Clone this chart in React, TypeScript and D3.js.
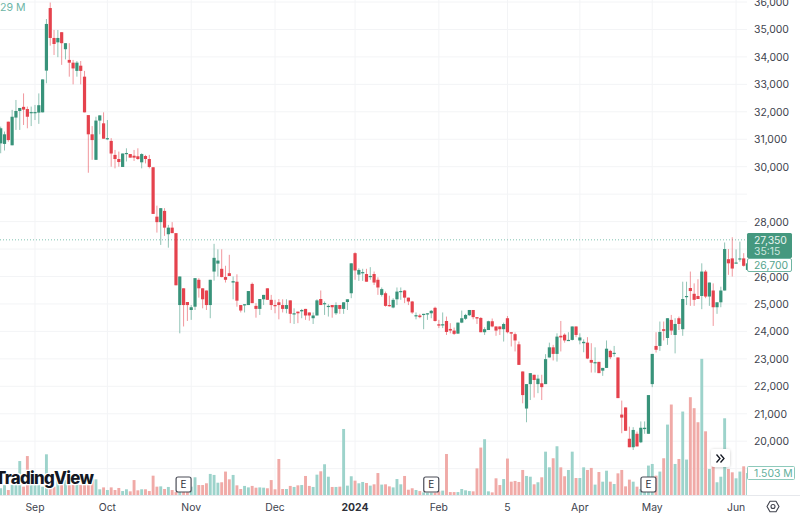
import React from 'react';
import * as d3 from 'd3';

const WIDTH = 800;
const HEIGHT = 514;
const PANE_RIGHT = 747;

// open, high, low, close
const ohlc: [number, number, number, number][] = [
  [30850,31460,30490,31400],[30830,31280,30590,31180],[31640,31640,30910,30970],[30780,32070,30780,31820],
  [31790,32430,31340,32030],[32030,32140,31340,32140],[32180,32670,31520,32080],[32100,32190,31400,31820],
  [31970,32190,31480,31990],[31970,32250,31700,31990],[31970,32670,31560,32240],[31980,33180,31980,33180],
  [33500,35380,33040,35200],[35780,35980,34410,34690],[34690,34980,34070,34470],[34530,34980,33990,34690],
  [34900,34900,33710,34500],[34280,34500,33910,34500],[33890,34500,33280,33790],[33790,33890,33000,33580],
  [33490,33850,33280,33790],[33680,33850,33000,33490],[33280,33490,31980,31980],[31880,31880,29780,31180],
  [31180,31480,30250,30970],[30250,31820,30250,31680],[31680,31870,31180,31870],[31580,31980,31020,31020],
  [31010,31700,30970,31040],[30940,31040,30000,30480],[30430,30610,29940,30280],[30280,30550,30000,30170],
  [29990,30480,29990,30480],[30460,30670,30190,30500],[30460,30460,30330,30330],[30400,30610,30210,30330],
  [30380,30670,30250,30280],[30160,30490,29940,30460],[30390,30430,30120,30280],[30280,30430,29940,29990],
  [29980,29980,28280,28280],[28180,28580,27600,27980],[27980,28490,27150,28490],[28390,28490,27480,27780],
  [27540,27880,27050,27780],[27780,27980,27580,27580],[27580,27580,25680,25680],[24960,26000,23930,26000],
  [25570,25570,24180,24960],[25070,25070,24380,24960],[24780,24960,24420,24880],[24900,25940,24780,25940],
  [25880,25940,25230,25570],[25570,25570,24840,25170],[25490,25490,24780,24960],[24960,25880,24480,25880],
  [26180,27190,25850,26680],[26470,26990,26000,26580],[26280,26990,25970,25980],[25980,26390,25780,25880],
  [26120,26790,26020,26020],[25780,26000,25170,25830],[25810,26080,24900,25120],[24960,24960,24690,24760],
  [24960,24990,24690,24990],[24960,25470,24960,25470],[25730,25780,25030,25030],[24930,25030,24500,24820],
  [24820,25180,24600,25180],[25170,25330,24960,25330],[25570,25570,25150,25150],[25150,25330,24780,24960],
  [24960,25150,24660,24930],[25060,25180,24440,24960],[24960,25170,24690,24820],[24820,25170,24660,24960],
  [25130,25130,24300,24640],[24620,24840,24270,24660],[24720,24720,24300,24660],[24730,24820,24480,24780],
  [24820,24820,24420,24580],[24690,24690,24390,24580],[24480,24690,24270,24580],[24580,25170,24580,25130],
  [25180,25490,24960,24960],[25000,25090,24600,25030],[24890,24990,24540,24930],[24960,24960,24500,24880],
  [24660,25060,24600,24960],[24960,24960,24640,24820],[24820,25060,24640,25060],[25070,25170,24780,25170],
  [25390,26480,25210,26480],[26850,26880,25880,26220],[26070,26300,25840,26240],[26140,26280,25840,26160],
  [26090,26280,25810,25810],[26000,26340,25880,26020],[26090,26180,25690,25780],[25880,25970,25330,25600],
  [25330,25600,25270,25540],[25390,25450,24900,24930],[24960,25300,24900,24920],[24870,25210,24840,25150],
  [25170,25600,24960,25450],[25450,25600,25150,25470],[25490,25510,25030,25230],[25230,25230,24960,25090],
  [25090,25110,24640,24690],[24560,24690,24440,24590],[24580,24640,24480,24520],[24610,24640,24080,24640],
  [24620,24660,24420,24660],[24660,24780,24480,24750],[24860,24900,24360,24380],[24260,24420,24120,24210],
  [24240,24690,24120,24260],[24380,24540,23870,23980],[24090,24300,23930,24030],[24030,24140,23870,23910],
  [23920,24320,23910,24320],[24320,24760,24300,24480],[24460,24640,24420,24600],[24590,24780,24560,24780],
  [24780,24780,24440,24520],[24520,24520,24270,24470],[24490,24520,23970,23970],[23970,24150,23870,24080],
  [24050,24390,24050,24370],[24370,24470,24150,24180],[24180,24180,23840,24030],[24180,24180,23870,24080],
  [24080,24320,23630,24270],[24480,24560,23930,23970],[23970,23970,23450,23920],[23900,23960,23270,23670],
  [23530,23630,22780,22780],[22540,22540,21380,21680],[21190,22080,20690,22080],[22080,22480,21500,22480],
  [22420,22420,21590,22230],[22080,22420,21750,22280],[22110,22420,21500,21970],[22080,23170,22080,22990],
  [23050,23590,23050,23420],[23420,23510,22940,23180],[23180,23930,22900,23810],[23840,24380,23270,23780],
  [23880,23930,23590,23670],[23670,23970,23670,23690],[23690,24180,23670,24180],[24180,24180,23790,23870],
  [23670,23930,23530,23780],[23570,23710,23240,23620],[23590,23790,22990,23010],[22960,23570,22500,22860],
  [22840,23420,22500,22880],[22890,22890,22480,22480],[22570,22670,22380,22670],[22670,23670,22670,23370],
  [23290,23330,22990,23060],[23180,23470,23080,23220],[23050,23050,21570,21570],[20970,21480,20290,20860],
  [21230,21230,20380,20380],[20090,20530,19780,19780],[19780,20510,19680,20410],[20270,20350,19810,19810],
  [19960,20720,19930,20490],[20440,20720,20270,20490],[20270,21680,20270,21680],[22080,23180,21970,23180],
  [23470,23970,23230,23330],[23470,24360,23290,23980],[24080,24360,23670,24020],[23760,24480,23510,24480],
  [24420,24600,23870,24030],[23870,24480,23200,24270],[24480,24540,24050,24270],[24080,25810,23840,25180],
  [25270,25810,24960,25290],[25580,26180,24930,25470],[25370,25750,24930,25150],[25290,25900,25180,25180],
  [25290,26480,24810,26180],[26180,26240,25210,25270],[25270,25780,24930,25780],[25490,25750,24200,24880],
  [24880,25060,24640,25060],[25060,25630,24880,25490],[25490,27240,25490,27000],[26630,27000,26060,26480],
  [26660,27430,26000,26290],[26480,26990,26480,26510],[26620,27270,26540,26660],[26660,26850,26360,26390],
  [26240,26480,26240,26480],
];

// volume in millions
const volumes = [
  0.46,0.68,0.34,0.68,0.68,2.32,0.57,2.66,0.68,0.68,0.68,0.57,2.78,0.46,0.57,1.48,1.02,1.02,0.68,0.68,
  0.80,0.68,0.68,0.68,1.25,1.07,0.39,0.52,0.34,0.52,0.34,0.48,0.27,0.39,0.25,1.02,0.32,0.39,0.39,0.27,
  1.32,0.57,0.59,0.41,0.55,0.34,0.20,0.23,0.23,0.23,0.57,1.21,0.68,0.68,0.80,1.44,1.37,0.84,0.87,1.60,
  1.07,1.37,0.66,0.41,0.62,0.52,0.62,0.50,0.52,0.50,0.46,1.02,0.39,2.46,0.41,0.41,0.62,0.55,0.66,0.68,
  1.30,0.62,0.55,1.39,1.62,2.10,1.25,0.55,0.55,0.57,4.51,0.64,1.28,0.98,0.80,0.89,0.82,0.64,0.73,1.50,
  0.71,0.73,0.59,0.52,1.09,0.73,1.30,0.36,0.46,0.34,0.27,0.18,0.16,0.16,0.16,0.25,0.30,2.80,0.20,0.20,
  0.20,0.41,0.32,0.27,0.25,1.82,3.24,3.81,0.25,0.18,1.14,0.68,1.09,2.49,0.91,0.96,0.89,1.71,1.30,1.25,
  0.73,0.87,1.21,2.96,1.89,2.51,3.33,1.89,1.28,1.71,2.96,1.16,1.16,1.89,1.71,1.85,0.71,1.57,0.91,1.66,
  0.91,0.75,1.48,1.71,0.59,1.05,0.91,0.57,0.41,0.41,2.01,2.12,1.32,1.60,2.51,4.81,6.18,2.12,2.46,5.70,
  2.42,6.68,5.93,4.97,9.30,4.35,1.78,2.01,0.87,1.25,5.24,1.78,1.55,1.14,1.60,1.96,1.503,
];

const priceLabels = [36000,35000,34000,33000,32000,31000,30000,28000,26000,25000,24000,23000,22000,21000,20000];
const priceGrid = [36000,35000,34000,33000,32000,31000,30000,29000,28000,27000,26000,25000,24000,23000,22000,21000,20000,19000];
const timeTicks = [
  { bar: 9, label: 'Sep' },
  { bar: 28, label: 'Oct' },
  { bar: 50, label: 'Nov' },
  { bar: 72, label: 'Dec' },
  { bar: 93, label: '2024', bold: true },
  { bar: 115, label: 'Feb' },
  { bar: 133, label: '5' },
  { bar: 152, label: 'Apr' },
  { bar: 171, label: 'May' },
  { bar: 193, label: 'Jun' },
];
const earningsBars = [48, 113, 170];
const lastPrice = 27350;

const GREEN = '#38937a';
const RED = '#e5424d';
const GREEN_VOL = '#9dd3cb';
const RED_VOL = '#f0aaa7';
const FONT = 'Inter, sans-serif';
const AXIS_SIZE = 10.4;

const x = d3.scaleLinear().domain([0, 196]).range([0.7, 747.5]);
const y = d3.scaleLinear().domain([36000, 20000]).range([2, 441.2]);
const yVol = d3.scaleLinear().domain([0, 10]).range([495, 348.6]);

const gearPoints = d3.range(6).map((i) => {
  const a = (i * Math.PI) / 3;
  return [773 + 6 * Math.cos(a), 506.5 + 6 * Math.sin(a)] as [number, number];
});
const gearPath = d3.line().curve(d3.curveLinearClosed)(gearPoints) as string;

export default function App() {
  return (
    <svg
      width={WIDTH}
      height={HEIGHT}
      style={{ position: 'fixed', left: 0, top: 0, background: '#fff', display: 'block' }}
    >
      <defs>
        <clipPath id="pane">
          <rect x={0} y={0} width={PANE_RIGHT} height={495} />
        </clipPath>
        <filter id="btnShadow" x="-40%" y="-40%" width="180%" height="180%">
          <feDropShadow dx="0" dy="0.5" stdDeviation="1.5" floodOpacity="0.22" />
        </filter>
      </defs>

      {/* grid */}
      <g stroke="#f3f4f6" strokeWidth={1}>
        {priceGrid.map((p) => (
          <line key={p} x1={0} x2={PANE_RIGHT} y1={y(p)} y2={y(p)} />
        ))}
        {timeTicks.map((t) => (
          <line key={t.label} x1={x(t.bar)} x2={x(t.bar)} y1={0} y2={495} />
        ))}
      </g>
      <line x1={0} x2={WIDTH} y1={495.5} y2={495.5} stroke="#e6e8ec" />

      <g clipPath="url(#pane)">
        {/* volume */}
        {volumes.map((v, i) => (
          <rect
            key={i}
            x={x(i) - 1.45}
            width={2.9}
            y={yVol(v)}
            height={yVol(0) - yVol(v)}
            fill={ohlc[i][3] >= ohlc[i][0] ? GREEN_VOL : RED_VOL}
          />
        ))}

        <line
          x1={0}
          x2={PANE_RIGHT}
          y1={y(lastPrice) + 0.4}
          y2={y(lastPrice) + 0.4}
          stroke="#7fc2b1"
          strokeDasharray="1 2"
        />

        {/* candles */}
        {ohlc.map(([o, h, l, c], i) => {
          const col = c >= o ? GREEN : RED;
          const top = y(Math.max(o, c));
          const bot = y(Math.min(o, c));
          return (
            <g key={i}>
              <line x1={x(i)} x2={x(i)} y1={y(h)} y2={y(l)} stroke={col} strokeWidth={1} strokeOpacity={0.55} />
              <rect x={x(i) - 1.6} width={3.2} y={top} height={Math.max(bot - top, 1.2)} fill={col} />
            </g>
          );
        })}
      </g>

      <text x={0} y={10.5} fontFamily={FONT} fontSize={10.6} fill="#6db5a6">
        29 M
      </text>

      {/* logo */}
      <text
        x={-5}
        y={484}
        fontFamily={FONT}
        fontSize={16.8}
        fontWeight={800}
        letterSpacing={-0.7}
        fill="#131722"
        stroke="#fff"
        strokeWidth={2.5}
        paintOrder="stroke"
      >
        TradingView
      </text>

      {/* earnings markers */}
      {earningsBars.map((b) => (
        <g key={b}>
          <rect
            x={x(b) - 7.5}
            y={477}
            width={15}
            height={15}
            rx={2}
            fill="#fff"
            stroke="#4a4d57"
            strokeWidth={1.2}
          />
          <text x={x(b)} y={488.2} textAnchor="middle" fontFamily={FONT} fontSize={10} fill="#2e3039">
            E
          </text>
        </g>
      ))}

      {/* scroll button */}
      <rect x={711} y={449} width={19} height={18} rx={3} fill="#fff" filter="url(#btnShadow)" />
      <path
        d="M716.5 454.5L720 458.5L716.5 462.5M720.5 454.5L724 458.5L720.5 462.5"
        fill="none"
        stroke="#131722"
        strokeWidth={1.3}
      />

      {/* price axis */}
      <rect x={PANE_RIGHT} y={0} width={WIDTH - PANE_RIGHT} height={495} fill="#fff" />
      {priceLabels.map((p) => (
        <text key={p} x={754} y={y(p) + 4} fontFamily={FONT} fontSize={AXIS_SIZE} fill="#40434e">
          {d3.format(',')(p)}
        </text>
      ))}

      {/* price tags */}
      <rect x={PANE_RIGHT} y={233} width={45} height={25} rx={1.5} fill="#45987f" />
      <text x={754} y={243.5} fontFamily={FONT} fontSize={AXIS_SIZE} fill="#eaf5f1">
        {d3.format(',')(lastPrice)}
      </text>
      <text x={754} y={255} fontFamily={FONT} fontSize={AXIS_SIZE} fill="#cfe7df">
        35:15
      </text>
      <rect x={PANE_RIGHT + 0.5} y={258.5} width={44} height={13} rx={1.5} fill="#fff" stroke="#6fb5a2" />
      <text x={754} y={268.8} fontFamily={FONT} fontSize={AXIS_SIZE} fill="#55a48d">
        26,700
      </text>

      <rect x={747.5} y={466.5} width={47} height={13} rx={1} fill="#fff" stroke="#8ecabb" />
      <text x={754} y={476.8} fontFamily={FONT} fontSize={AXIS_SIZE} fill="#62b09c">
        1.503 M
      </text>

      {/* time axis */}
      {timeTicks.map((t) => (
        <text
          key={t.label}
          x={x(t.bar)}
          y={510.5}
          textAnchor="middle"
          fontFamily={FONT}
          fontSize={AXIS_SIZE}
          fontWeight={t.bold ? 700 : 400}
          fill={t.bold ? '#2e3039' : '#40434e'}
        >
          {t.label}
        </text>
      ))}

      {/* settings */}
      <path d={gearPath} fill="none" stroke="#40434e" strokeWidth={1.1} strokeLinejoin="round" />
      <circle cx={773} cy={506.5} r={2} fill="none" stroke="#40434e" strokeWidth={1.1} />
    </svg>
  );
}
